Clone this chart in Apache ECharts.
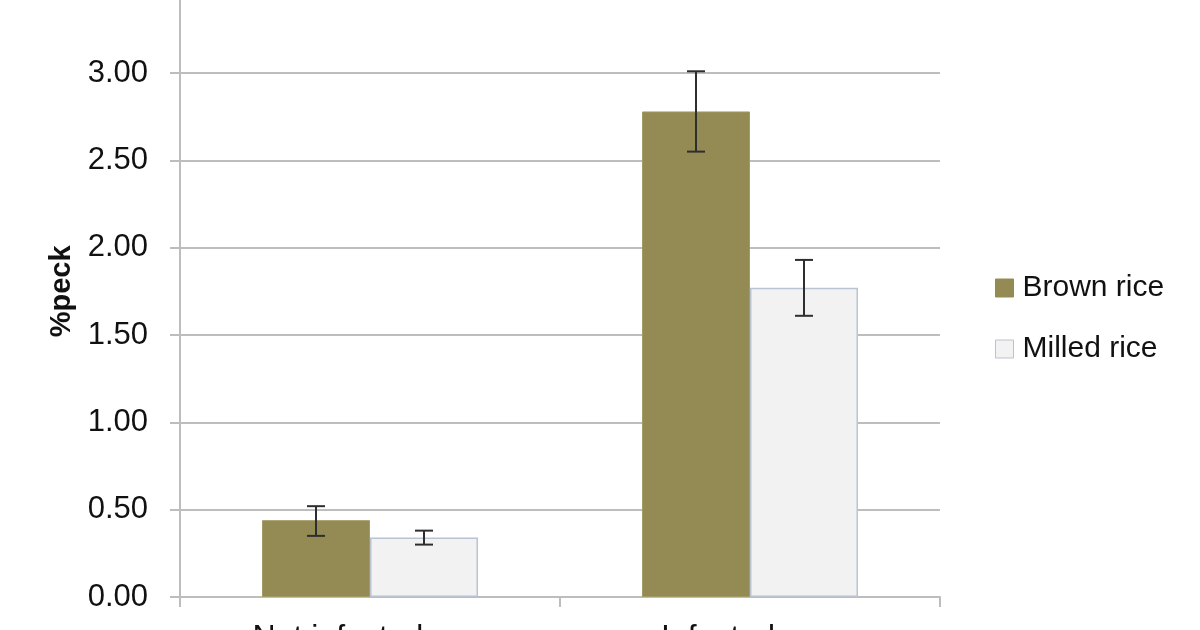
<!DOCTYPE html>
<html>
<head>
<meta charset="utf-8">
<script src="https://cdn.jsdelivr.net/npm/echarts@6/dist/echarts.min.js"></script>
<style>html,body{margin:0;padding:0;background:#fff;overflow:hidden}#c{width:1200px;height:630px}</style>
</head>
<body>
<div id="c"></div>
<script>
const categories = ['Not infested', 'Infested'];
const brownRice = [0.44, 2.78];
const milledRice = [0.34, 1.77];
const brownErrLow = [0.35, 2.55];
const brownErrHigh = [0.52, 3.01];
const milledErrLow = [0.30, 1.61];
const milledErrHigh = [0.38, 1.93];
const yMin = 0, yMax = 3.5, yStep = 0.5;

const BAR_W = 108;
const font = 'Liberation Sans';

function errSeries(name, low, high, offset) {
  return {
    type: 'custom',
    name: name + ' err',
    z: 5,
    data: categories.map((c, i) => [i, low[i], high[i]]),
    renderItem: function (params, api) {
      const lo = api.coord([api.value(0), api.value(1)]);
      const hi = api.coord([api.value(0), api.value(2)]);
      const x = lo[0] + offset;
      const cap = 9;
      const style = { stroke: '#2e2e2e', lineWidth: 2 };
      return {
        type: 'group',
        children: [
          { type: 'line', shape: { x1: x, y1: lo[1], x2: x, y2: hi[1] }, style: style },
          { type: 'line', shape: { x1: x - cap, y1: lo[1], x2: x + cap, y2: lo[1] }, style: style },
          { type: 'line', shape: { x1: x - cap, y1: hi[1], x2: x + cap, y2: hi[1] }, style: style }
        ]
      };
    },
    silent: true,
    tooltip: { show: false }
  };
}

const chart = echarts.init(document.getElementById('c'));
chart.setOption({
  animation: false,
  textStyle: { fontFamily: font },
  grid: { left: 180, right: 260, top: -14.3, bottom: 33, containLabel: false, outerBoundsMode: 'none' },
  legend: {
    orient: 'vertical',
    left: 990,
    top: 268,
    icon: 'rect',
    itemWidth: 18,
    itemHeight: 18,
    itemGap: 31,
    textStyle: { fontFamily: font, fontSize: 30, color: '#111', padding: [0, 0, 0, 4] },
    data: [
      { name: 'Brown rice', itemStyle: { color: '#948A54', borderColor: '#948A54', borderWidth: 1 } },
      { name: 'Milled rice', itemStyle: { color: '#F2F2F2', borderColor: '#B9C3D1', borderWidth: 1 } }
    ]
  },
  xAxis: {
    type: 'category',
    data: categories,
    axisLine: { lineStyle: { color: '#BDBDBD', width: 2 } },
    axisTick: { show: true, length: 10, interval: 0, lineStyle: { color: '#BDBDBD', width: 2 } },
    axisLabel: { fontFamily: font, fontSize: 32, color: '#111', margin: 25, interval: 0, padding: [0, 64, 0, 0] }
  },
  yAxis: {
    type: 'value',
    min: yMin,
    max: yMax,
    interval: yStep,
    name: '%peck',
    nameLocation: 'middle',
    nameGap: 104,
    nameTextStyle: { fontFamily: font, fontSize: 29, fontWeight: 'bold', color: '#111' },
    axisLine: { show: true, lineStyle: { color: '#BDBDBD', width: 2 } },
    axisTick: { show: true, length: 10, lineStyle: { color: '#BDBDBD', width: 2 } },
    axisLabel: { fontFamily: font, fontSize: 31, color: '#111', margin: 32, formatter: v => v.toFixed(2) },
    splitLine: { show: true, lineStyle: { color: '#BDBDBD', width: 2 } }
  },
  series: [
    {
      name: 'Brown rice', type: 'bar', data: brownRice, barWidth: BAR_W, barGap: '0%',
      itemStyle: { color: '#948A54', borderColor: '#A39A66', borderWidth: 1 }
    },
    {
      name: 'Milled rice', type: 'bar', data: milledRice, barWidth: BAR_W, barGap: '0%',
      itemStyle: { color: '#F2F2F2', borderColor: '#B9C3D1', borderWidth: 1.5 }
    },
    errSeries('Brown rice', brownErrLow, brownErrHigh, -BAR_W / 2),
    errSeries('Milled rice', milledErrLow, milledErrHigh, BAR_W / 2)
  ]
});
</script>
</body>
</html>
